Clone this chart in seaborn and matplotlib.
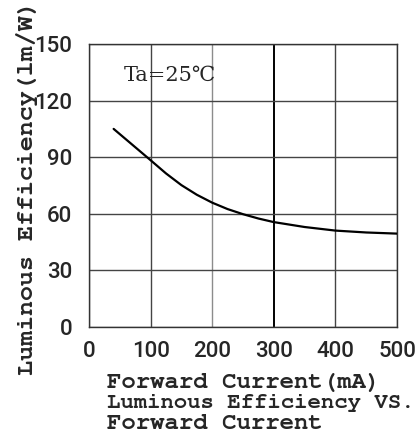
import matplotlib
matplotlib.use("Agg")
import matplotlib.pyplot as plt
import seaborn as sns
import pandas as pd

# Luminous efficiency vs. forward current curve (Ta = 25 °C)
current_ma = [40, 70, 100, 125, 150, 175, 200, 225, 250, 275, 300, 350, 400, 450, 500]
efficiency = [105, 96.7, 88.4, 81.4, 75.2, 70.1, 65.9, 62.5, 59.8, 57.5, 55.6, 53.0, 51.1, 50.1, 49.5]

x_ticks = [0, 100, 200, 300, 400, 500]
y_ticks = [0, 30, 60, 90, 120, 150]

df = pd.DataFrame({"current": current_ma, "efficiency": efficiency})

sns.set_style("white")
plt.rcParams["font.family"] = ["Roboto", "Liberation Sans", "DejaVu Sans"]

fig = plt.figure(figsize=(4.17, 4.48), dpi=100)
ax = fig.add_axes([89 / 417, 1 - 327 / 448, 308 / 417, 283 / 448])

sns.lineplot(data=df, x="current", y="efficiency", ax=ax, color="black",
             linewidth=1.6, zorder=5)

ax.set_xlim(0, 500)
ax.set_ylim(0, 150)
ax.set_xticks(x_ticks)
ax.set_yticks(y_ticks)
ax.set_xticklabels([str(v) for v in x_ticks], fontsize=16, fontweight="medium")
ax.set_yticklabels([str(v) for v in y_ticks], fontsize=16, fontweight="medium")
ax.tick_params(axis="x", length=0, pad=10)
ax.tick_params(axis="y", length=0, pad=12)
ax.set_xlabel("")
ax.set_ylabel("")

ax.grid(True, color="#444444", linewidth=1.0)
for line, v in zip(ax.get_xgridlines(), x_ticks):
    if v == 300:
        line.set_color("black")
        line.set_linewidth(1.4)
    elif v == 200:
        line.set_color("#8c8c8c")
for s in ax.spines.values():
    s.set_color("#333333")
    s.set_linewidth(1.0)

ax.text(0.114, 0.89, "Ta=25℃", transform=ax.transAxes, fontsize=15,
        family=["DejaVu Serif"], va="center", ha="left")

mono = ["Nimbus Mono PS", "FreeMono", "Courier New", "Liberation Mono", "DejaVu Sans Mono"]
fig.text(27 / 417, 1 - 188 / 448, "Luminous Efficiency(lm/W)", rotation=90,
         fontsize=18, fontweight="bold", family=mono, ha="center", va="center")

fig.text(107 / 417, 1 - 383 / 448, "Forward Current(mA)", fontsize=17.3,
         fontweight="bold", family=mono, ha="left", va="center")
fig.text(107 / 417, 1 - 403 / 448, "Luminous Efficiency VS.", fontsize=16,
         fontweight="bold", family=mono, ha="left", va="center")
fig.text(107 / 417, 1 - 424 / 448, "Forward Current", fontsize=17.3,
         fontweight="bold", family=mono, ha="left", va="center")

fig.savefig("out.png", dpi=100)
